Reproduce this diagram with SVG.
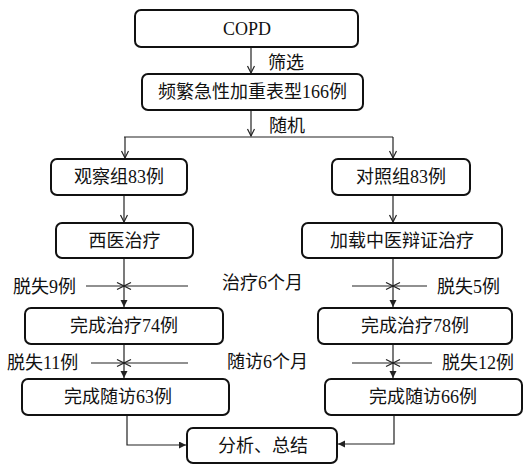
<svg xmlns="http://www.w3.org/2000/svg" width="525" height="466" viewBox="0 0 525 466">
<defs>
<style>
.box{fill:#fff;stroke:#111;stroke-width:2}
.t{font-family:"Liberation Serif","Noto Sans CJK SC",serif;font-size:18px;fill:#111;dominant-baseline:central}
.c{text-anchor:middle}
.ln{fill:none;stroke:#222;stroke-width:1.2}
</style>
<marker id="v" markerUnits="userSpaceOnUse" markerWidth="10" markerHeight="10" refX="8" refY="4" orient="auto"><path d="M1,0.5 L8,4 L1,7.5" fill="none" stroke="#222" stroke-width="1.2"/></marker>
<marker id="f" markerUnits="userSpaceOnUse" markerWidth="10" markerHeight="10" refX="7" refY="3.5" orient="auto"><path d="M0,0 L7,3.5 L0,7 Z" fill="#222"/></marker>
</defs>
<rect width="525" height="466" fill="#fff"/>
<g id="connectors">
<path class="ln" d="M251,47 V73" marker-end="url(#v)"/>
<path class="ln" d="M251,110 V136" marker-end="url(#v)"/>
<path class="ln" d="M124,137 H393"/>
<path class="ln" d="M125,137 V158" marker-end="url(#v)"/>
<path class="ln" d="M393,137 V158" marker-end="url(#v)"/>
<path class="ln" d="M124,195 V222" marker-end="url(#v)"/>
<path class="ln" d="M393,195 V222" marker-end="url(#v)"/>
<path class="ln" d="M124,258 V307" marker-end="url(#f)"/>
<path class="ln" d="M393,258 V307" marker-end="url(#f)"/>
<path class="ln" d="M86,286 H124" marker-end="url(#v)"/>
<path class="ln" d="M188,286 H124" marker-end="url(#v)"/>
<path class="ln" d="M352,286 H393" marker-end="url(#v)"/>
<path class="ln" d="M427,286 H393" marker-end="url(#v)"/>
<path class="ln" d="M124,344 V378" marker-end="url(#f)"/>
<path class="ln" d="M393,344 V378" marker-end="url(#f)"/>
<path class="ln" d="M91,363 H124" marker-end="url(#v)"/>
<path class="ln" d="M188,363 H124" marker-end="url(#v)"/>
<path class="ln" d="M352,363 H393" marker-end="url(#v)"/>
<path class="ln" d="M432,363 H393" marker-end="url(#v)"/>
<path class="ln" d="M127,415 V445 H186" marker-end="url(#f)"/>
<path class="ln" d="M394,415 V444 H338" marker-end="url(#f)"/>
</g>
<g id="labels">
<text class="t" x="268" y="63">筛选</text>
<text class="t" x="269" y="126">随机</text>
<text class="t" x="222" y="283">治疗6个月</text>
<text class="t" x="227" y="362">随访6个月</text>
<text class="t" x="13" y="287">脱失9例</text>
<text class="t" x="437" y="287">脱失5例</text>
<text class="t" x="7" y="363">脱失11例</text>
<text class="t" x="442" y="363">脱失12例</text>
</g>
<g id="n-copd"><rect class="box" x="135" y="10" width="223" height="37" rx="6"/><text class="t c" x="247" y="29">COPD</text></g>
<g id="n-166"><rect class="box" x="142" y="74" width="221" height="36" rx="6"/><text class="t c" x="252.5" y="92">频繁急性加重表型166例</text></g>
<g id="n-obs"><rect class="box" x="51" y="159" width="136" height="36" rx="6"/><text class="t c" x="119" y="177">观察组83例</text></g>
<g id="n-ctl"><rect class="box" x="332" y="159" width="138" height="36" rx="6"/><text class="t c" x="401" y="177">对照组83例</text></g>
<g id="n-west"><rect class="box" x="56" y="223" width="137" height="35" rx="6"/><text class="t c" x="124.5" y="240.5">西医治疗</text></g>
<g id="n-tcm"><rect class="box" x="302" y="223" width="200" height="35" rx="6"/><text class="t c" x="402" y="240.5">加载中医辩证治疗</text></g>
<g id="n-74"><rect class="box" x="25" y="308" width="198" height="36" rx="6"/><text class="t c" x="124" y="326">完成治疗74例</text></g>
<g id="n-78"><rect class="box" x="318" y="308" width="194" height="36" rx="6"/><text class="t c" x="415" y="326">完成治疗78例</text></g>
<g id="n-63"><rect class="box" x="22" y="379" width="207" height="36" rx="6"/><text class="t c" x="118" y="397">完成随访63例</text></g>
<g id="n-66"><rect class="box" x="325" y="379" width="197" height="36" rx="6"/><text class="t c" x="423" y="397">完成随访66例</text></g>
<g id="n-sum"><rect class="box" x="187" y="428" width="150" height="35" rx="6"/><text class="t c" x="263" y="445.5">分析、总结</text></g>
</svg>
